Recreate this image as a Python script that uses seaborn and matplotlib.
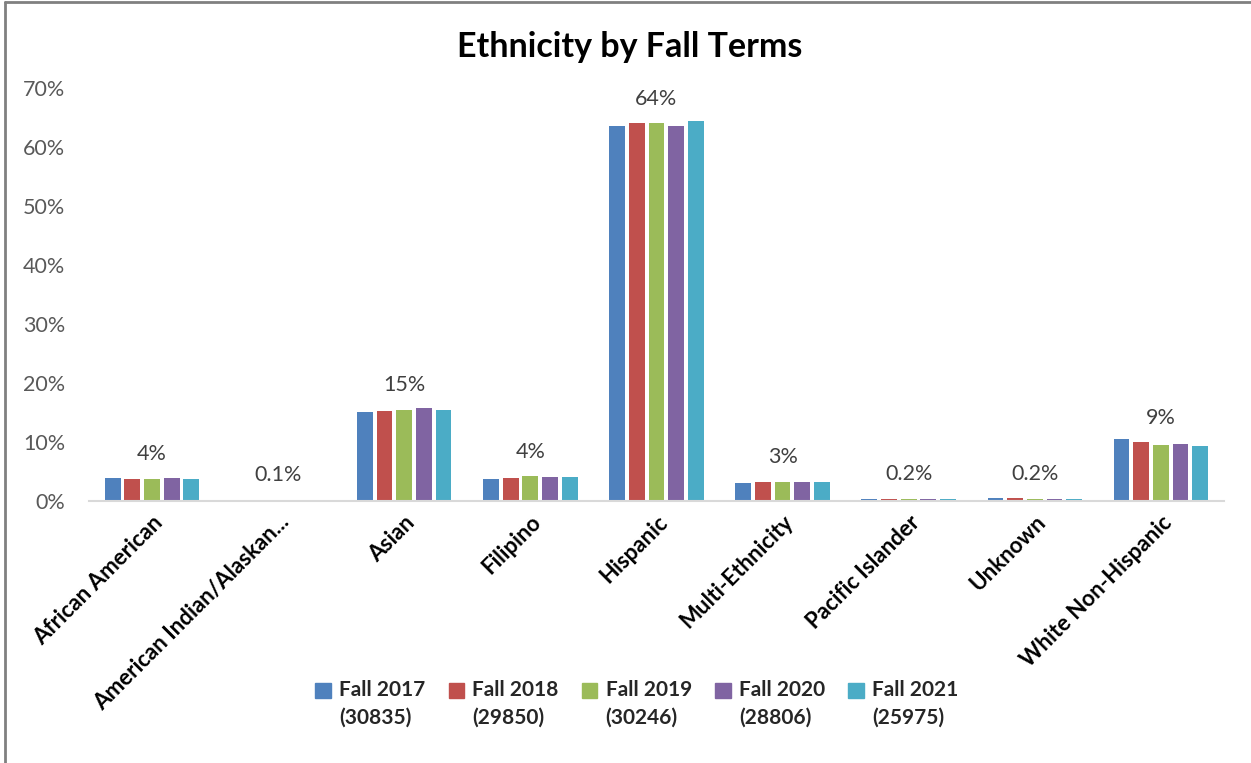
import matplotlib
matplotlib.use("Agg")
import matplotlib.pyplot as plt
import matplotlib.patches as mpatches
from matplotlib.lines import Line2D
import seaborn as sns
import pandas as pd
import numpy as np

# Ethnicity share (%) per fall term
categories = ["African American", "American Indian/Alaskan...", "Asian", "Filipino",
              "Hispanic", "Multi-Ethnicity", "Pacific Islander", "Unknown",
              "White Non-Hispanic"]
terms = ["Fall 2017\n(30835)", "Fall 2018\n(29850)", "Fall 2019\n(30246)",
         "Fall 2020\n(28806)", "Fall 2021\n(25975)"]
fall_2017 = [3.8, 0.1, 15.0, 3.7, 63.6, 3.0, 0.25, 0.42, 10.4]
fall_2018 = [3.65, 0.1, 15.2, 3.8, 64.0, 3.1, 0.25, 0.42, 9.9]
fall_2019 = [3.6, 0.1, 15.4, 4.2, 64.1, 3.2, 0.25, 0.2, 9.5]
fall_2020 = [3.8, 0.1, 15.7, 4.0, 63.5, 3.2, 0.2, 0.25, 9.6]
fall_2021 = [3.6, 0.1, 15.4, 4.0, 64.4, 3.1, 0.2, 0.2, 9.25]
group_labels = ["4%", "0.1%", "15%", "4%", "64%", "3%", "0.2%", "0.2%", "9%"]

colors = ["#4F81BD", "#C0504D", "#9BBB59", "#8064A2", "#4BACC6"]

series = [fall_2017, fall_2018, fall_2019, fall_2020, fall_2021]
df = pd.DataFrame({
    "Ethnicity": categories * len(terms),
    "Term": [t for t in terms for _ in categories],
    "Share": [v for s in series for v in s],
})

sns.set_style("white")
plt.rcParams["font.family"] = ["Lato", "DejaVu Sans"]

fig = plt.figure(figsize=(12.51, 7.63), dpi=100)
ax = fig.add_axes([0.0711, 0.344, 0.9073, 0.5407])

sns.barplot(data=df, x="Ethnicity", y="Share", hue="Term", palette=colors,
            saturation=1, width=0.78, gap=0.2, linewidth=0, ax=ax, legend=False)

ax.set_ylim(0, 70)
ax.set_xlim(-0.5, len(categories) - 0.5)
ax.set_yticks(range(0, 71, 10))
ax.set_yticklabels([f"{v}%" for v in range(0, 71, 10)], fontsize=15.5, color="#595959")
ax.set_xticks(range(len(categories)))
ax.set_xticklabels(categories, rotation=45, ha="right", rotation_mode="anchor",
                   fontsize=16, fontweight="bold", color="black")
ax.tick_params(axis="both", length=0)
ax.tick_params(axis="y", pad=17)
ax.tick_params(axis="x", pad=8)
ax.set_xlabel("")
ax.set_ylabel("")
for side in ["left", "right", "top"]:
    ax.spines[side].set_visible(False)
ax.spines["bottom"].set_color("#D9D9D9")
ax.spines["bottom"].set_linewidth(1.5)

# group value labels above each cluster
means = np.mean(np.array(series), axis=0)
for i, lab in enumerate(group_labels):
    ax.annotate(lab, (i, means[i]), xytext=(0, 18), textcoords="offset points",
                ha="center", va="center", fontsize=15.5, color="#404040")

fig.text(0.503, 1 - 47 / 763, "Ethnicity by Fall Terms", ha="center", va="center",
         fontsize=24.5, fontweight="bold", color="black")

handles = [mpatches.Patch(color=c, label=t) for c, t in zip(colors, terms)]
leg = fig.legend(handles=handles, loc="center", bbox_to_anchor=(0.509, 1 - 704 / 763),
                 ncol=5, frameon=False, prop={"weight": "bold", "size": 15},
                 handlelength=0.75, handleheight=0.75, handletextpad=0.4,
                 columnspacing=1.1)
for t in leg.get_texts():
    t.set_linespacing(1.45)
    t.set_multialignment("left")
for p in leg.get_patches():
    p.set_y(p.get_y() + 10)

# chart border (left and top edges visible)
fig.add_artist(Line2D([5 / 1251, 5 / 1251], [0, 1 - 2 / 763], color="#808080", lw=2))
fig.add_artist(Line2D([5 / 1251, 1], [1 - 2 / 763, 1 - 2 / 763], color="#808080", lw=2))

fig.savefig("out.png", dpi=100)
